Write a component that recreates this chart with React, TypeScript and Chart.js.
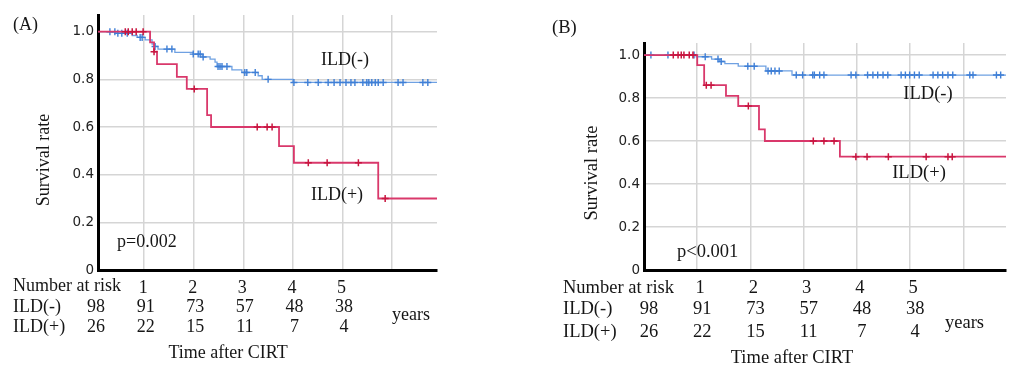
import React, { useEffect, useRef } from 'react';
import { Chart, registerables } from 'chart.js';
Chart.register(...registerables);

// ---------- DATA ----------
// Panel A — ILD(-)
const A_NEG_TIMES = [0, 0.42, 0.76, 0.86, 1.02, 1.16, 1.22, 1.28, 1.62, 1.99, 2.17, 2.33, 2.43, 2.47, 2.77, 2.97, 3.30, 3.38, 4.00];
const A_NEG_SURV = [1.0, 0.993, 0.984, 0.976, 0.966, 0.948, 0.938, 0.927, 0.913, 0.906, 0.894, 0.885, 0.872, 0.854, 0.84, 0.829, 0.815, 0.80, 0.787];
const A_NEG_CENSOR = [0.31, 0.41, 0.47, 0.55, 0.66, 0.92, 0.96, 1.22, 1.46, 1.56, 1.99, 2.09, 2.13, 2.19, 2.49, 2.53, 2.57, 2.67, 3.03, 3.07, 3.24, 3.50, 4.02, 4.30, 4.51, 4.71, 4.83, 4.95, 5.07, 5.17, 5.25, 5.41, 5.49, 5.53, 5.59, 5.66, 5.72, 5.82, 6.12, 6.22, 6.62, 6.72];
// Panel A — ILD(+)
const A_POS_TIMES = [0, 1.12, 1.20, 1.26, 1.66, 1.86, 2.27, 2.35, 3.72, 4.02, 5.72];
const A_POS_SURV = [1.0, 0.955, 0.916, 0.864, 0.81, 0.76, 0.65, 0.60, 0.52, 0.45, 0.30];
const A_POS_CENSOR = [0.62, 0.68, 0.76, 0.84, 0.98, 1.20, 2.01, 3.28, 3.48, 3.58, 4.31, 4.69, 5.32, 5.86];
// Panel B — ILD(-)
const B_NEG_TIMES = [0, 0.98, 1.27, 1.42, 1.52, 1.77, 2.29, 2.78];
const B_NEG_SURV = [1.0, 0.992, 0.981, 0.97, 0.96, 0.948, 0.926, 0.907];
const B_NEG_CENSOR = [0.13, 0.45, 0.94, 1.15, 1.39, 1.45, 1.95, 2.07, 2.33, 2.39, 2.46, 2.54, 2.86, 2.98, 3.17, 3.20, 3.30, 3.38, 3.89, 3.98, 4.20, 4.30, 4.39, 4.49, 4.58, 4.83, 4.91, 4.99, 5.08, 5.17, 5.43, 5.52, 5.61, 5.71, 5.80, 6.12, 6.18, 6.62, 6.70];
// Panel B — ILD(+)
const B_POS_TIMES = [0, 1.0, 1.13, 1.54, 1.77, 2.16, 2.27, 3.68];
const B_POS_SURV = [1.0, 0.953, 0.86, 0.81, 0.763, 0.654, 0.60, 0.527];
const B_POS_CENSOR = [0.55, 0.64, 0.70, 0.75, 0.85, 0.92, 1.17, 1.26, 1.96, 3.18, 3.38, 3.57, 3.98, 4.19, 4.59, 5.30, 5.71, 5.79];

// Number at risk
const RISK_YEARS = [0, 1, 2, 3, 4, 5];
const RISK_NEG = [98, 91, 73, 57, 48, 38];
const RISK_POS = [26, 22, 15, 11, 7, 4];

// Ticks
const X_TICKS = [1, 2, 3, 4, 5, 6];
const X_TICK_LABELS = ['1', '2', '3', '4', '5', ''];
const Y_TICKS = [0, 0.2, 0.4, 0.6, 0.8, 1.0];
const Y_TICK_LABELS = ['0', '0.2', '0.4', '0.6', '0.8', '1.0'];

// Texts
const SERIES_NAMES = ['ILD(-)', 'ILD(+)'];
const RISK_HEADER = 'Number at risk';
const X_TITLE = 'Time after CIRT';
const Y_TITLE = 'Survival rate';
const UNIT = 'years';
const PANEL_TAGS = ['(A)', '(B)'];
const P_VALUES = ['p=0.002', 'p<0.001'];

// ---------- STYLE / LAYOUT ----------
const W = 1012;
const H = 365;
const RED = '#d9386b';
const RED_MARK = '#c8153f';
const BLUE = '#6fa1e2';
const BLUE_MARK = '#3f7fd6';
const SERIF = '"Liberation Serif", "Times New Roman", serif';
const TEXT = '#161616';

const PANELS = [
  {
    tag: PANEL_TAGS[0], p: P_VALUES[0],
    neg: { t: A_NEG_TIMES, s: A_NEG_SURV, c: A_NEG_CENSOR },
    pos: { t: A_POS_TIMES, s: A_POS_SURV, c: A_POS_CENSOR },
    area: { left: 98, right: 437, top: 15, bottom: 270 },
    xMin: 0.07, xMax: 6.905, yMax: 1.07,
    labelOffset: -1, colOffset: 1.5, fontSize: 18,
    tagPos: [13, 25], negLabel: [345, 60], posLabel: [337, 195], pPos: [117, 242],
    tableLeft: 13, headerY: 286, rowY: [307, 327], unitPos: [392, 315],
    xTitlePos: [228, 353], yTitlePos: [44, 160],
  },
  {
    tag: PANEL_TAGS[1], p: P_VALUES[1],
    neg: { t: B_NEG_TIMES, s: B_NEG_SURV, c: B_NEG_CENSOR },
    pos: { t: B_POS_TIMES, s: B_POS_SURV, c: B_POS_CENSOR },
    area: { left: 644, right: 1006, top: 43, bottom: 270 },
    xMin: 0, xMax: 6.8, yMax: 1.056,
    labelOffset: 3, colOffset: 5, fontSize: 18.5,
    tagPos: [552, 28], negLabel: [928, 94], posLabel: [919, 173], pPos: [677, 252],
    tableLeft: 563, headerY: 288, rowY: [309, 332], unitPos: [945, 323],
    xTitlePos: [792, 358], yTitlePos: [592, 173],
  },
];

function survivalAt(times: number[], surv: number[], t: number) {
  let v = surv[0];
  for (let i = 0; i < times.length; i++) if (times[i] <= t) v = surv[i];
  return v;
}

function stepPoints(times: number[], surv: number[], xEnd: number) {
  const pts = times.map((t, i) => ({ x: t, y: surv[i] }));
  pts.push({ x: xEnd, y: surv[surv.length - 1] });
  return pts;
}

function censorPoints(times: number[], surv: number[], cens: number[]) {
  return cens.map((t) => ({ x: t, y: survivalAt(times, surv, t) }));
}

function buildConfig(P: any) {
  const Y_AXIS_W = 40;
  const X_AXIS_H = 30;
  const textPlugin = {
    id: 'kmText',
    afterDraw(chart: any) {
      const ctx = chart.ctx;
      const xs = chart.scales.x;
      ctx.save();
      ctx.fillStyle = TEXT;
      ctx.font = `${P.fontSize}px ${SERIF}`;
      ctx.textBaseline = 'middle';
      ctx.textAlign = 'left';
      ctx.fillText(P.tag, P.tagPos[0], P.tagPos[1]);
      ctx.fillText(P.p, P.pPos[0], P.pPos[1]);
      ctx.fillText(RISK_HEADER, P.tableLeft, P.headerY);
      ctx.fillText(SERIES_NAMES[0], P.tableLeft, P.rowY[0]);
      ctx.fillText(SERIES_NAMES[1], P.tableLeft, P.rowY[1]);
      ctx.fillText(UNIT, P.unitPos[0], P.unitPos[1]);
      ctx.textAlign = 'center';
      ctx.fillText(SERIES_NAMES[0], P.negLabel[0], P.negLabel[1]);
      ctx.fillText(SERIES_NAMES[1], P.posLabel[0], P.posLabel[1]);
      ctx.fillText(X_TITLE, P.xTitlePos[0], P.xTitlePos[1]);
      RISK_YEARS.forEach((yr, i) => {
        const px = xs.getPixelForValue(yr) + P.colOffset;
        ctx.fillText(String(RISK_NEG[i]), px, P.rowY[0]);
        ctx.fillText(String(RISK_POS[i]), px, P.rowY[1]);
      });
      ctx.translate(P.yTitlePos[0], P.yTitlePos[1]);
      ctx.rotate(-Math.PI / 2);
      ctx.fillText(Y_TITLE, 0, 0);
      ctx.restore();
    },
  };

  return {
    type: 'scatter',
    data: {
      datasets: [
        {
          label: SERIES_NAMES[1] + ' censored',
          data: censorPoints(P.pos.t, P.pos.s, P.pos.c),
          showLine: false, pointStyle: 'cross', pointRadius: 3.5,
          borderColor: RED_MARK, backgroundColor: RED_MARK, borderWidth: 1.5,
        },
        {
          label: SERIES_NAMES[1],
          data: stepPoints(P.pos.t, P.pos.s, P.xMax),
          showLine: true, stepped: 'before', pointRadius: 0,
          borderColor: RED, borderWidth: 1.8, fill: false,
        },
        {
          label: SERIES_NAMES[0] + ' censored',
          data: censorPoints(P.neg.t, P.neg.s, P.neg.c),
          showLine: false, pointStyle: 'cross', pointRadius: 3.5,
          borderColor: BLUE_MARK, backgroundColor: BLUE_MARK, borderWidth: 1.4,
        },
        {
          label: SERIES_NAMES[0],
          data: stepPoints(P.neg.t, P.neg.s, P.xMax),
          showLine: true, stepped: 'before', pointRadius: 0,
          borderColor: BLUE, borderWidth: 1.3, fill: false,
        },
      ],
    },
    options: {
      responsive: false,
      animation: false,
      maintainAspectRatio: false,
      events: [],
      layout: {
        padding: {
          left: P.area.left - Y_AXIS_W,
          right: W - P.area.right,
          top: P.area.top,
          bottom: H - P.area.bottom - X_AXIS_H,
        },
      },
      plugins: { legend: { display: false }, tooltip: { enabled: false } },
      scales: {
        x: {
          type: 'linear',
          min: P.xMin,
          max: P.xMax,
          afterBuildTicks: (s: any) => { s.ticks = X_TICKS.map((v) => ({ value: v })); },
          afterFit: (s: any) => { s.height = X_AXIS_H; },
          ticks: {
            callback: (v: number) => X_TICK_LABELS[X_TICKS.indexOf(v)] ?? '',
            font: { family: SERIF, size: P.fontSize },
            color: TEXT, padding: 7, labelOffset: P.labelOffset,
            maxRotation: 0, autoSkip: false,
          },
          grid: { color: '#d5d5d5', lineWidth: 1.5, drawTicks: false },
          border: { display: true, color: '#000', width: 3 },
        },
        y: {
          min: 0,
          max: P.yMax,
          afterBuildTicks: (s: any) => { s.ticks = Y_TICKS.map((v) => ({ value: v })); },
          afterFit: (s: any) => { s.width = Y_AXIS_W; },
          ticks: {
            callback: (v: number) => Y_TICK_LABELS[Y_TICKS.findIndex((t) => Math.abs(t - v) < 1e-9)] ?? '',
            font: { family: '"DejaVu Sans", sans-serif', size: 13.5 },
            color: '#222222', padding: 4,
          },
          grid: { color: '#d5d5d5', lineWidth: 1.5, drawTicks: false },
          border: { display: true, color: '#000', width: 3 },
        },
      },
    },
    plugins: [textPlugin],
  };
}

function KMPanel({ panel }: { panel: any }) {
  const ref = useRef<HTMLCanvasElement | null>(null);
  useEffect(() => {
    const chart = new Chart(ref.current as HTMLCanvasElement, buildConfig(panel) as any);
    return () => chart.destroy();
  }, [panel]);
  return (
    <canvas
      ref={ref}
      width={W}
      height={H}
      style={{ position: 'absolute', left: 0, top: 0, width: W, height: H }}
    />
  );
}

export default function App() {
  return (
    <div style={{ position: 'absolute', left: 0, top: 0, width: W, height: H, background: '#fff', overflow: 'hidden' }}>
      <KMPanel panel={PANELS[0]} />
      <KMPanel panel={PANELS[1]} />
    </div>
  );
}
